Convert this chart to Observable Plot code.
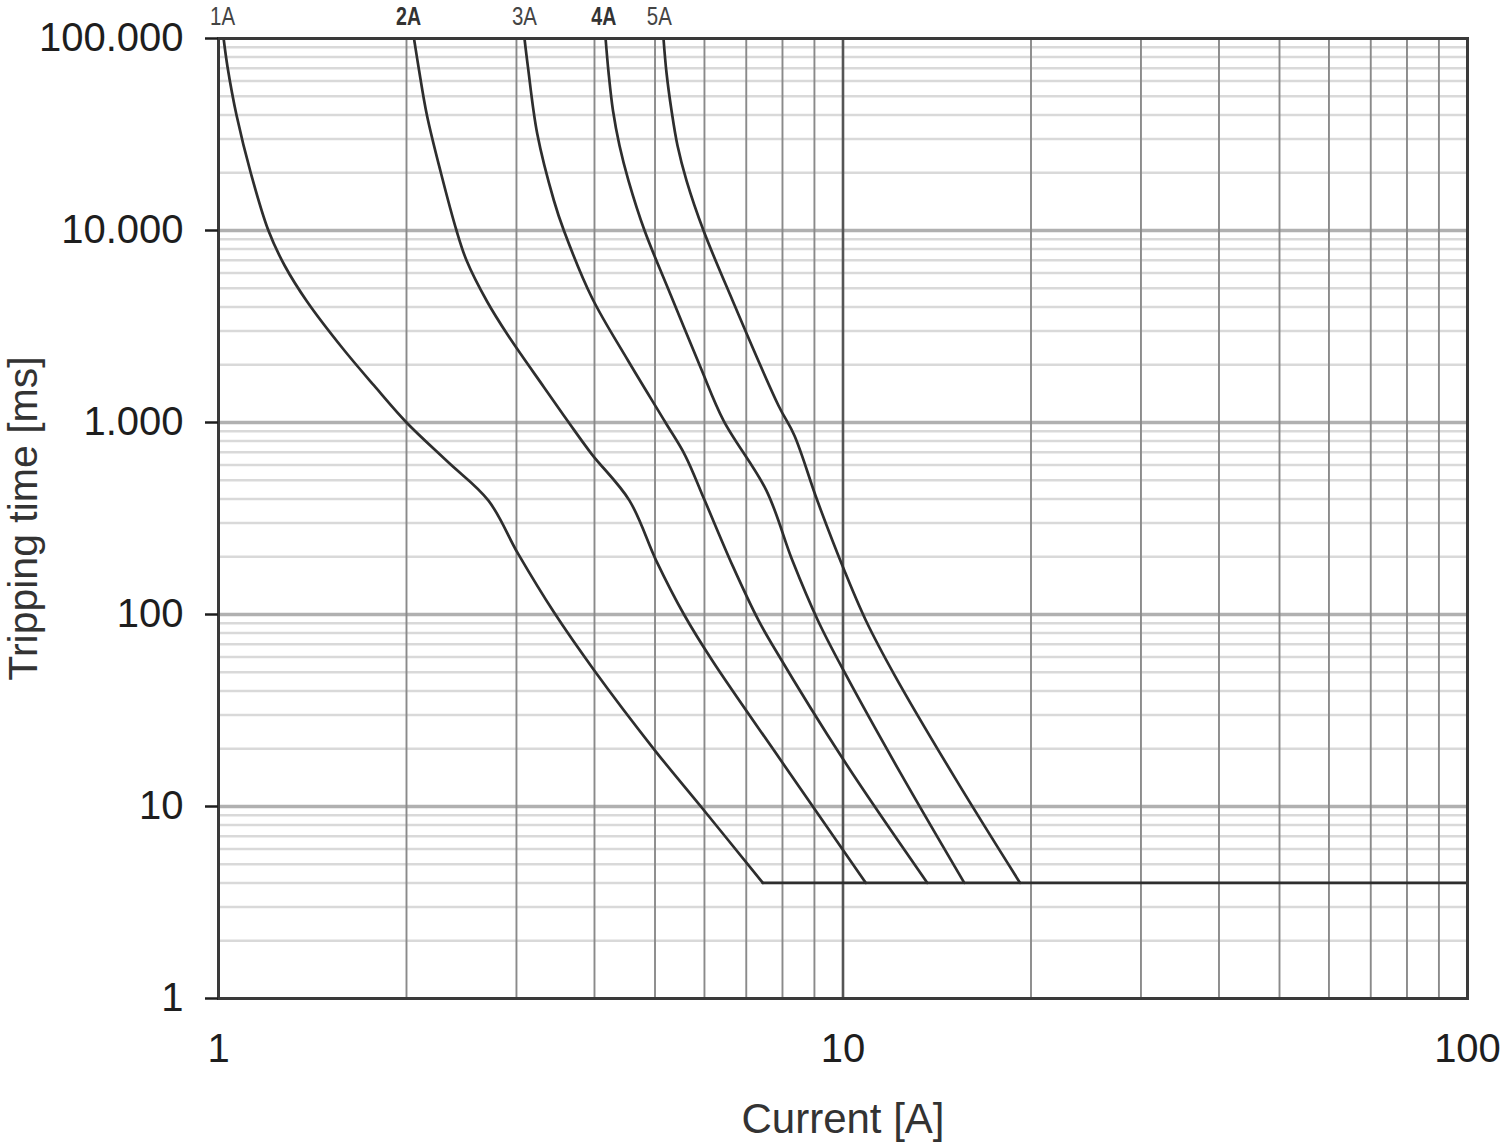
<!DOCTYPE html>
<html>
<head>
<meta charset="utf-8">
<script src="https://cdn.jsdelivr.net/npm/d3@7"></script>
<script src="https://cdn.jsdelivr.net/npm/@observablehq/plot@0.6"></script>
<style>
html, body { margin: 0; padding: 0; background: #fff; }
#chart { width: 1500px; height: 1144px; }
</style>
</head>
<body>
<div id="chart"></div>
<script>
// ---- Data (current in A, tripping time in ms) ----
const series = ["1A", "2A", "3A", "4A", "5A"];

const current1A = [1.019, 1.034, 1.069, 1.127, 1.202, 1.276, 1.386, 1.579, 1.774, 2.0, 2.326, 2.706, 3.016, 3.449, 3.997, 4.986, 5.939, 7.44];
const time1A    = [100000, 70900, 39720, 19810, 10000, 6572, 4268, 2443, 1559, 1000, 626, 392, 208, 102, 51.1, 19.8, 9.88, 4];

const current2A = [2.056, 2.091, 2.157, 2.272, 2.405, 2.496, 2.692, 2.902, 3.320, 3.638, 3.956, 4.551, 5.022, 5.564, 6.175, 7.951, 10.88];
const time2A    = [100000, 70900, 39720, 19810, 10000, 6978, 4268, 2873, 1527, 1000, 687, 392, 191, 100, 57.6, 17.4, 4];

const current3A = [3.090, 3.130, 3.239, 3.444, 3.573, 3.961, 4.526, 5.197, 5.589, 6.007, 6.664, 7.324, 7.769, 10.03, 13.65];
const time3A    = [100000, 70900, 31880, 14330, 10000, 4477, 2103, 1000, 673, 392, 178, 93.1, 66.5, 17.4, 4];

const current4A = [4.167, 4.213, 4.282, 4.386, 4.534, 4.811, 5.294, 5.913, 6.438, 7.541, 8.298, 9.116, 10.08, 12.35, 15.64];
const time4A    = [100000, 66510, 42170, 27720, 18210, 10000, 4642, 1941, 1024, 442, 191, 93.1, 49.3, 15.0, 4];

const current5A = [5.159, 5.216, 5.314, 5.432, 5.616, 5.979, 6.655, 7.882, 8.359, 9.096, 10.05, 10.88, 12.13, 15.17, 19.21];
const time5A    = [100000, 66510, 42170, 27720, 18210, 10000, 4319, 1226, 856, 392, 169.5, 93.1, 47.5, 13.8, 4];

// common minimum tripping time
const tailCurrent = [7.44, 100];
const tailTime    = [4, 4];

// axis ticks and labels
const yTicks = [1, 10, 100, 1000, 10000, 100000];
const yTickLabels = ["1", "10", "100", "1.000", "10.000", "100.000"];
const xTicks = [1, 10, 100];
const xTickLabels = ["1", "10", "100"];

// curve labels above the plot
const labelNames   = ["1A", "2A", "3A", "4A", "5A"];
const labelCurrent = [1.015, 2.015, 3.09, 4.14, 5.08];
const labelBold    = [false, true, false, true, false];

const xTitle = "Current [A]";
const yTitle = "Tripping time [ms]";

// ---- Build tables ----
const currents = [current1A, current2A, current3A, current4A, current5A];
const times = [time1A, time2A, time3A, time4A, time5A];
const curveData = series.flatMap((s, k) => currents[k].map((I, i) => ({series: s, I, t: times[k][i]})));
const tailData = tailCurrent.map((I, i) => ({I, t: tailTime[i]}));
const labelData = labelNames.map((name, i) => ({name, I: labelCurrent[i], bold: labelBold[i]}));

const yMinor = [];
for (let i = 0; i < yTicks.length - 1; i++) for (let m = 2; m <= 9; m++) yMinor.push(yTicks[i] * m);
const xMinor = [];
for (let i = 0; i < xTicks.length - 1; i++) for (let m = 2; m <= 9; m++) xMinor.push(xTicks[i] * m);
const yMajorInner = yTicks.slice(1, -1);

const font = "'Liberation Sans', Arial, Helvetica, sans-serif";

const chart = Plot.plot({
  width: 1500,
  height: 1144,
  marginLeft: 218,
  marginRight: 33,
  marginTop: 38,
  marginBottom: 146,
  style: {fontFamily: font, background: "#fff", color: "#222"},
  x: {type: "log", domain: [1, 100]},
  y: {type: "log", domain: [1, 100000]},
  marks: [
    Plot.ruleY(yMinor, {stroke: "#d9d9d9", strokeWidth: 2.5}),
    Plot.ruleY(yMajorInner, {stroke: "#b0b0b0", strokeWidth: 3.5}),
    Plot.ruleX(xMinor, {stroke: "#8a8a8a", strokeWidth: 1.9}),
    Plot.ruleX([10], {stroke: "#555", strokeWidth: 2.6}),
    Plot.line(curveData, {x: "I", y: "t", z: "series", stroke: "#2e2e2e", strokeWidth: 2.7, curve: "catmull-rom"}),
    Plot.line(tailData, {x: "I", y: "t", stroke: "#2e2e2e", strokeWidth: 2.7}),
    Plot.frame({stroke: "#3a3a3a", strokeWidth: 3}),
    Plot.axisY({
      ticks: yTicks,
      tickFormat: d => yTickLabels[yTicks.indexOf(d)],
      tickSize: 13, tickPadding: 22, fontSize: 40,
      color: "#1e1e1e", strokeWidth: 2.5, label: null
    }),
    Plot.axisX({
      ticks: xTicks,
      tickFormat: d => xTickLabels[xTicks.indexOf(d)],
      tickSize: 0, tickPadding: 35, fontSize: 40,
      color: "#1e1e1e", label: null
    }),
    Plot.text([xTitle], {text: d => d, frameAnchor: "bottom", dy: 134, fontSize: 42, fill: "#333"}),
    Plot.text([yTitle], {text: d => d, frameAnchor: "left", textAnchor: "middle", lineAnchor: "middle", dx: -195, rotate: -90, fontSize: 41, fill: "#333"}),
    Plot.text(labelData.filter(d => !d.bold), {x: "I", y: () => 100000, text: "name", dy: -22, fontSize: 25, fill: "#444"}),
    Plot.text(labelData.filter(d => d.bold), {x: "I", y: () => 100000, text: "name", dy: -22, fontSize: 25, fontWeight: "bold", fill: "#333"})
  ]
});

// condense the small curve labels like the reference
d3.select(chart).selectAll("text")
  .filter(function() { return labelNames.includes(this.textContent); })
  .attr("textLength", 25)
  .attr("lengthAdjust", "spacingAndGlyphs");

document.getElementById("chart").appendChild(chart);
</script>
</body>
</html>
